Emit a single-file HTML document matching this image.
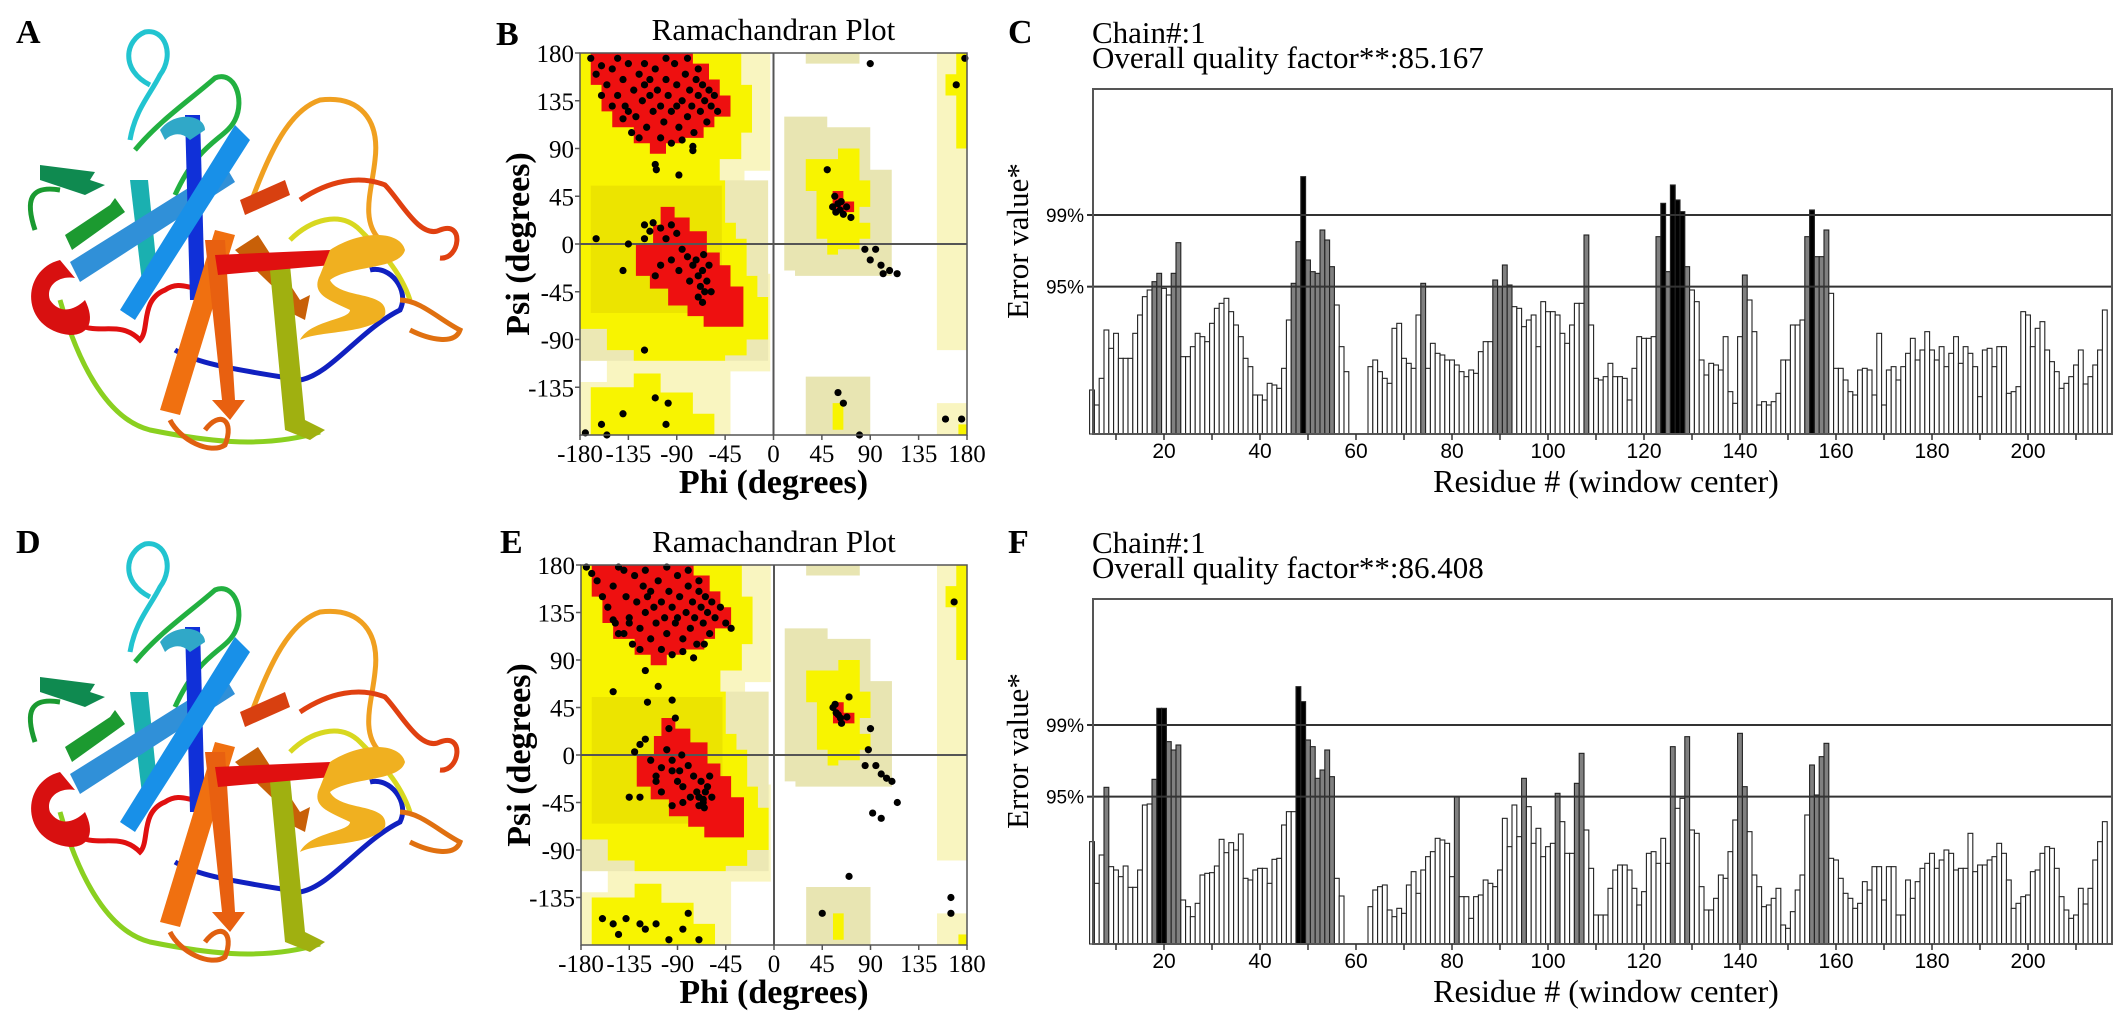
<!DOCTYPE html>
<html><head><meta charset="utf-8"><title>Model validation figure</title>
<style>
html,body{margin:0;padding:0;background:#fff;}
svg{display:block;}
.serif{font-family:"Liberation Serif","DejaVu Serif",serif;}
.sans{font-family:"Liberation Sans","DejaVu Sans",sans-serif;}
</style></head>
<body>
<svg id="fig" width="2126" height="1020" viewBox="0 0 2126 1020" xmlns="http://www.w3.org/2000/svg">
<rect x="0" y="0" width="2126" height="1020" fill="#fff"/>
<defs>
<g id="protein">
  <path d="M150,85 C120,70 125,40 145,32 C165,28 175,55 160,75 C150,95 135,110 130,140" fill="none" stroke="#22c4d0" stroke-width="5"/>
  <path d="M135,150 C160,120 190,100 215,78 C235,70 245,100 235,120 C225,140 200,140 175,195" fill="none" stroke="#22b040" stroke-width="5"/>
  <path d="M35,230 C25,200 30,185 60,190" fill="none" stroke="#1a9a30" stroke-width="5"/>
  <path d="M60,300 C80,370 110,420 150,430 C200,440 260,450 320,432" fill="none" stroke="#8ad020" stroke-width="5"/>
  <path d="M175,350 C200,365 240,370 300,380 C330,375 360,330 400,310 C410,290 390,265 370,270" fill="none" stroke="#1020c0" stroke-width="5"/>
  <path d="M80,325 C100,335 120,320 140,340 C150,330 140,300 165,290 C180,280 190,290 200,288" fill="none" stroke="#e01010" stroke-width="5"/>
  <path d="M250,205 C270,150 290,110 320,100 C360,95 380,120 375,160 C372,190 360,220 380,240" fill="none" stroke="#f0a020" stroke-width="5"/>
  <path d="M300,200 C330,180 360,175 385,185 C400,200 420,240 440,230 C465,220 460,260 440,258" fill="none" stroke="#e04010" stroke-width="5"/>
  <path d="M290,240 C310,220 340,210 360,230 C380,250 400,270 410,300" fill="none" stroke="#d8d820" stroke-width="5"/>
  <path d="M400,300 C420,300 440,320 460,330 C455,345 430,340 410,330" fill="none" stroke="#e07010" stroke-width="5"/>
  <path d="M170,420 C180,440 210,455 225,445 C235,420 220,410 205,430" fill="none" stroke="#e06010" stroke-width="5"/>
  <path d="M40,165 L95,172 L90,180 L105,185 L85,195 L40,180 Z" fill="#0f8a50"/>
  <path d="M65,235 L110,205 L115,198 L125,212 L72,250 Z" fill="#1c9a30"/>
  <path d="M130,180 L148,180 L158,280 L142,282 Z" fill="#1ab0b0"/>
  <path d="M70,262 L225,165 L235,182 L80,282 Z" fill="#3090d8"/>
  <path d="M185,115 L200,115 L205,300 L190,300 Z" fill="#1030d8"/>
  <path d="M120,310 L235,125 L250,140 L135,320 Z" fill="#1890e8"/>
  <path d="M160,410 L215,230 L235,235 L180,415 Z" fill="#f07010"/>
  <path d="M205,240 L225,240 L235,400 L245,400 L230,420 L212,400 L222,400 Z" fill="#e86010"/>
  <path d="M235,250 L258,235 L300,300 L310,295 L305,320 L285,310 L292,305 Z" fill="#c86008"/>
  <path d="M270,270 L290,265 L305,420 L325,430 L310,440 L285,430 Z" fill="#a0b010"/>
  <path d="M215,255 L330,250 L332,265 L218,275 Z" fill="#e01010"/>
  <path d="M240,200 L285,180 L290,195 L245,215 Z" fill="#d84010"/>
  <path d="M60,260 C20,270 20,330 70,335 C90,335 95,320 85,300 C75,310 60,315 50,300 C45,285 60,275 75,278 Z" fill="#d81010"/>
  <path d="M330,250 C360,230 400,230 405,250 C400,270 350,265 330,280 C340,300 390,290 385,315 C370,335 320,330 300,340 C310,320 350,320 350,310 C330,300 310,295 320,275 Z" fill="#f0b020"/>
  <path d="M160,130 C175,110 205,115 205,130 L190,140 C180,130 170,135 165,140 Z" fill="#30a8c8"/>
</g>
</defs>

<text x="16" y="43" class="serif" font-size="34" font-weight="bold">A</text>
<text x="496" y="45" class="serif" font-size="34" font-weight="bold">B</text>
<text x="1008" y="43" class="serif" font-size="34" font-weight="bold">C</text>
<text x="16" y="553" class="serif" font-size="34" font-weight="bold">D</text>
<text x="500" y="553" class="serif" font-size="34" font-weight="bold">E</text>
<text x="1008" y="553" class="serif" font-size="34" font-weight="bold">F</text>

<use href="#protein" x="0" y="0"/>
<use href="#protein" x="0" y="512"/>

<g id="ramB"></g>
<g id="ramE"></g>
<g id="errC"></g>
<g id="errF"></g>
</svg>

<script>
const phiB = [-170,-165,-160,-155,-150,-145,-140,-138,-135,-130,-128,-125,-122,-120,-118,-115,-112,-110,-108,-105,-102,-100,-98,-95,-92,-90,-88,-85,-82,-80,-78,-76,-74,-72,-70,-68,-66,-64,-62,-60,-58,-55,-52,-150,-140,-132,-125,-105,-95,-85,-75,-120,-100,-80,-145,-135,-115,-90,-70,-160,
 -110,-109,-88,-75,-165,-140,-120,-100,-160,-175,-140,-110,-98,-155,
 -120,-115,-112,-105,-100,-95,-90,-85,-80,-75,-72,-70,-68,-66,-64,-62,-60,-65,-78,-88,-95,-105,-110,-70,-66,-58,-120,-135,
 55,58,60,62,65,63,68,57,72,50,90,100,102,108,115,95,85,60,65,80,90,178,170,160,175];
const psiB = [175,160,168,150,165,140,155,130,170,145,120,160,135,150,110,140,125,165,145,130,115,155,140,125,170,150,110,135,160,120,145,130,105,155,140,125,150,135,115,145,130,140,125,130,118,105,100,100,95,98,92,170,175,175,175,125,155,130,165,140,
 75,70,65,88,5,-25,-100,-170,-170,-178,-160,-145,-150,-180,
 18,12,20,15,5,18,10,-5,-12,-20,-15,-30,-40,-25,-45,-35,-20,-10,-35,-25,-15,-20,-30,-50,-55,-45,5,0,
 35,30,38,32,28,40,35,45,25,70,-15,-20,-28,-25,-28,-5,-5,-140,-150,-180,170,175,150,-165,-165];
const phiE = [-175,-170,-165,-160,-155,-150,-148,-145,-140,-138,-135,-130,-128,-125,-122,-120,-118,-115,-112,-110,-108,-105,-102,-100,-98,-95,-92,-90,-88,-85,-82,-80,-78,-76,-74,-72,-70,-68,-66,-64,-62,-60,-58,-55,-50,-45,-40,-150,-140,-132,-125,-105,-95,-85,-75,-65,-120,-100,-80,-145,-135,-115,-90,-70,
 -120,-108,-95,-118,-92,-98,-86,-150,
 -130,-125,-120,-115,-110,-105,-100,-95,-90,-85,-80,-75,-72,-70,-68,-66,-64,-62,-60,-65,-78,-88,-95,-105,-110,-70,-66,-58,-135,-125,-95,-85,
 -160,-150,-145,-138,-125,-120,-110,-98,-85,-80,-70,
 55,58,60,62,57,63,68,70,90,88,95,100,105,110,115,85,70,45,92,100,165,165,168];
const psiE = [178,172,165,150,140,160,125,115,175,150,130,170,145,120,160,135,150,110,140,125,165,145,130,115,155,140,125,170,150,110,135,160,120,145,130,105,155,140,125,150,135,115,145,130,140,125,120,128,115,105,100,100,95,98,92,105,175,178,175,178,125,155,130,165,
 80,65,52,50,35,25,0,60,
 3,10,15,-5,-20,-12,5,-15,-25,-30,-10,-20,-35,-40,-25,-45,-35,-30,-20,-50,-40,-15,-5,-35,-25,-48,-42,-40,-40,-40,-48,-45,
 -155,-160,-170,-155,-160,-165,-160,-175,-165,-150,-175,
 45,40,38,35,48,30,36,55,25,5,-10,-18,-22,-25,-45,-10,-115,-150,-55,-60,-150,-135,145];

const firstResidue = 5;
const errorC = [132,87,167,312,257,302,227,227,227,302,357,412,432,457,482,437,417,482,574,
 232,232,262,302,292,277,332,377,392,407,367,327,292,227,202,117,117,102,152,147,137,197,342,452,577,
 772,522,487,482,612,582,502,387,262,187,
 0,0,0,0,
 202,222,187,167,152,317,332,227,212,197,357,452,197,272,242,237,222,222,207,187,172,192,182,247,277,277,462,442,507,447,382,377,322,342,357,262,397,367,367,357,302,272,327,392,392,597,
 327,167,162,172,212,172,172,167,102,197,292,287,287,292,592,692,487,747,702,667,502,432,397,222,177,212,207,192,292,127,92,292,477,402,307,87,97,87,97,122,222,222,327,327,342,592,672,532,532,612,422,
 197,197,162,127,117,192,197,192,117,302,87,192,202,162,202,242,287,222,252,307,252,222,262,202,242,292,212,262,242,202,112,252,257,202,262,262,122,127,142,367,357,262,317,337,252,217,187,137,152,172,207,252,150,172,207,252,372];
const errorF = [307,182,267,470,232,222,202,234,170,170,222,417,420,494,707,707,607,582,597,
 132,112,82,122,207,212,214,234,314,274,304,282,330,197,192,222,227,227,182,254,257,357,397,397,
 772,727,612,592,497,522,582,502,197,144,
 0,0,0,0,0,
 112,162,172,177,102,82,107,92,177,217,152,222,262,277,317,312,302,
 202,442,142,142,77,142,147,192,
 182,172,222,377,292,417,322,497,412,302,347,262,292,302,452,367,272,272,482,572,342,227,87,
 87,
 87,167,222,237,237,222,167,117,157,272,
 277,242,317,242,592,407,437,622,342,332,
 172,102,102,137,207,197,277,372,632,472,
 337,207,172,112,117,137,167,57,47,97,
 162,207,387,537,447,562,602,257,252,197,
 152,137,107,122,187,162,232,232,132,232,
 232,87,87,192,137,187,227,242,272,227,
 252,282,272,222,227,227,332,217,237,237,
 252,262,302,272,192,107,122,142,147,217,
 222,272,292,287,227,142,102,77,87,167,
 120,167,252,307,367];
const threshold95 = 442;
const threshold99 = 657;
const xTickLabels = [20,40,60,80,100,120,140,160,180,200];
const phiTicks = [-180,-135,-90,-45,0,45,90,135,180];
const psiTicks = [180,135,90,45,0,-45,-90,-135];

const NS = 'http://www.w3.org/2000/svg';
function mk(tag, attrs, parent){
  const e = document.createElementNS(NS, tag);
  for (const k in attrs) e.setAttribute(k, attrs[k]);
  parent.appendChild(e);
  return e;
}

function drawRam(g, x0, y0, x1, y1, phis, psis){
  const sx = p => x0 + (p + 180) * (x1 - x0) / 360;
  const sy = p => y0 + (180 - p) * (y1 - y0) / 360;
  const poly = (pts, fill) => mk('polygon', {points: pts.map(p => sx(p[0]) + ',' + sy(p[1])).join(' '), fill: fill}, g);
  const rect = (a, b, c, d, fill) => poly([[a,b],[c,b],[c,d],[a,d]], fill);
  const pale = '#f9f5c0', beige = '#e8e5b2', yel = '#f8f400', yel2 = '#ece400', red = '#ee1010';
  const bg = rect(-180,180,-3,-180,pale);
  
  
  rect(-27,69,0,-28,'#fff');
  rect(-40,-120,0,-180,'#fff');
  rect(-180,-110,-155,-130,'#fff');
  rect(-180,60,-5,-110,'#ece8b4');
  rect(152,180,180,-100,pale);
  rect(152,-150,180,-180,pale);
  rect(30,180,80,170,beige);
  poly([[10,120],[50,120],[50,110],[90,110],[90,70],[110,70],[110,-30],[20,-30],[20,-25],[10,-25]], beige);
  rect(30,-125,90,-180,beige);
  const yl = poly([[-180,180],[-30,180],[-30,150],[-20,150],[-20,105],[-30,105],[-30,80],[-50,80],[-50,60],[-45,60],[-45,20],[-35,20],[-35,5],[-25,5],[-25,-30],[-15,-30],[-15,-50],[-5,-50],[-5,-90],[-25,-90],[-25,-105],[-45,-105],[-45,-110],[-130,-110],[-130,-100],[-155,-100],[-155,-80],[-180,-80]], yel);
  
  
  rect(-170,55,-48,-65,yel2);
  poly([[-170,-180],[-55,-180],[-55,-160],[-75,-160],[-75,-140],[-105,-140],[-105,-122],[-130,-122],[-130,-135],[-170,-135]], yel);
  poly([[30,80],[60,80],[60,90],[80,90],[80,60],[90,60],[90,35],[80,35],[80,20],[90,20],[90,5],[80,5],[80,-5],[60,-5],[60,-10],[50,-10],[50,5],[40,5],[40,50],[30,50]], yel);
  poly([[170,180],[180,180],[180,90],[170,90],[170,140],[160,140],[160,160],[170,160]], yel);
  rect(55,-150,65,-175,yel);
  rect(172,-170,180,-180,yel);
  const rb = poly([[-170,180],[-75,180],[-75,170],[-60,170],[-60,155],[-50,155],[-50,140],[-40,140],[-40,120],[-55,120],[-55,110],[-65,110],[-65,100],[-85,100],[-85,95],[-100,95],[-100,85],[-115,85],[-115,95],[-130,95],[-130,110],[-150,110],[-150,125],[-160,125],[-160,150],[-170,150]], red);
  
  
  const ra = poly([[-105,35],[-92,35],[-92,25],[-78,25],[-78,12],[-62,12],[-62,-8],[-50,-8],[-50,-20],[-40,-20],[-40,-40],[-28,-40],[-28,-78],[-65,-78],[-65,-68],[-80,-68],[-80,-58],[-98,-58],[-98,-42],[-115,-42],[-115,-30],[-128,-30],[-128,0],[-112,0],[-112,18],[-105,18]], red);
  
  
  poly([[55,50],[65,50],[65,40],[75,40],[75,30],[55,30]], red);
  mk('line', {x1: sx(0), x2: sx(0), y1: y0, y2: y1, stroke: '#555', 'stroke-width': 2}, g);
  mk('line', {x1: x0, x2: x1, y1: sy(0), y2: sy(0), stroke: '#555', 'stroke-width': 2}, g);
  for (let i = 0; i < phis.length; i++){
    const c = mk('circle', {cx: sx(phis[i]), cy: sy(psis[i]), r: 3.6, fill: '#000'}, g);
    
    
  }
  mk('rect', {x: x0, y: y0, width: x1 - x0, height: y1 - y0, fill: 'none', stroke: '#555', 'stroke-width': 1.5}, g);
  phiTicks.forEach(t => {
    mk('line', {x1: sx(t), x2: sx(t), y1: y1, y2: y1 + 5, stroke: '#555', 'stroke-width': 1.5}, g);
    const tx = mk('text', {x: sx(t), y: y1 + 27, 'text-anchor': 'middle', 'font-size': 25, class: 'serif'}, g);
    tx.textContent = t;
    
    
  });
  psiTicks.forEach(t => {
    mk('line', {x1: x0 - 5, x2: x0, y1: sy(t), y2: sy(t), stroke: '#555', 'stroke-width': 1.5}, g);
    const tx = mk('text', {x: x0 - 6, y: sy(t) + 9, 'text-anchor': 'end', 'font-size': 25, class: 'serif'}, g);
    tx.textContent = t;
    
    
  });
  const ti = mk('text', {x: (x0 + x1) / 2, y: y0 - 13, 'text-anchor': 'middle', 'font-size': 31, class: 'serif'}, g);
  ti.textContent = 'Ramachandran Plot';
  
  
  const xt = mk('text', {x: (x0 + x1) / 2, y: y1 + 58, 'text-anchor': 'middle', 'font-size': 34, 'font-weight': 'bold', class: 'serif'}, g);
  xt.textContent = 'Phi (degrees)';
  
  
  const cy = (y0 + y1) / 2;
  const yt = mk('text', {x: 0, y: 0, transform: 'translate(' + (x0 - 51) + ',' + cy + ') rotate(-90)', 'text-anchor': 'middle', 'font-size': 34, 'font-weight': 'bold', class: 'serif'}, g);
  yt.textContent = 'Psi (degrees)';
  
  
}
drawRam(document.getElementById('ramB'), 580, 53, 967, 435, phiB, psiB);
drawRam(document.getElementById('ramE'), 581, 565, 967, 945, phiE, psiE);

function drawErr(g, top, bottom, values, chain, quality){
  const L = 1093, R = 2112;
  const xr = r => 1164 + (r - 20) * 4.8;
  const yv = v => bottom - v / 3;
  const t1 = mk('text', {x: 1092, y: top - 46, 'font-size': 31, class: 'serif'}, g);
  t1.textContent = 'Chain#:' + chain;
  
  
  const t2 = mk('text', {x: 1092, y: top - 21, 'font-size': 31, class: 'serif'}, g);
  t2.textContent = 'Overall quality factor**:' + quality;
  
  
  values.forEach((v, i) => {
    if (v <= 0) return;
    const r = firstResidue + i;
    const fill = v > threshold99 ? '#000' : (v >= threshold95 ? '#808080' : '#fff');
    const b = mk('rect', {x: xr(r) - 2.4, y: yv(v), width: 4.8, height: v / 3, fill: fill, stroke: '#222', 'stroke-width': 1.1}, g);
    
    
  });
  [[threshold99, '99%'], [threshold95, '95%']].forEach(t => {
    const ln = mk('line', {x1: L, x2: R, y1: yv(t[0]), y2: yv(t[0]), stroke: '#333', 'stroke-width': 2}, g);
    
    
    mk('line', {x1: L - 6, x2: L, y1: yv(t[0]), y2: yv(t[0]), stroke: '#333', 'stroke-width': 2}, g);
    const lb = mk('text', {x: L - 9, y: yv(t[0]) + 7, 'text-anchor': 'end', 'font-size': 19, class: 'sans'}, g);
    lb.textContent = t[1];
    
    
  });
  mk('rect', {x: L, y: top, width: R - L, height: bottom - top, fill: 'none', stroke: '#555', 'stroke-width': 2}, g);
  for (let r = 10; r <= 210; r += 10){
    mk('line', {x1: xr(r), x2: xr(r), y1: bottom, y2: bottom + 6, stroke: '#333', 'stroke-width': 1.5}, g);
  }
  xTickLabels.forEach(t => {
    const tx = mk('text', {x: xr(t), y: bottom + 24, 'text-anchor': 'middle', 'font-size': 21, class: 'sans'}, g);
    tx.textContent = t;
    
    
  });
  const xt = mk('text', {x: 1606, y: bottom + 58, 'text-anchor': 'middle', 'font-size': 32, class: 'serif'}, g);
  xt.textContent = 'Residue # (window center)';
  
  
  const yt = mk('text', {x: 0, y: 0, transform: 'translate(1028,' + (top + 152) + ') rotate(-90)', 'text-anchor': 'middle', 'font-size': 31, class: 'serif'}, g);
  yt.textContent = 'Error value*';
  
  
}
drawErr(document.getElementById('errC'), 89, 434, errorC, 1, '85.167');
drawErr(document.getElementById('errF'), 599, 944, errorF, 1, '86.408');
</script>
</body></html>
